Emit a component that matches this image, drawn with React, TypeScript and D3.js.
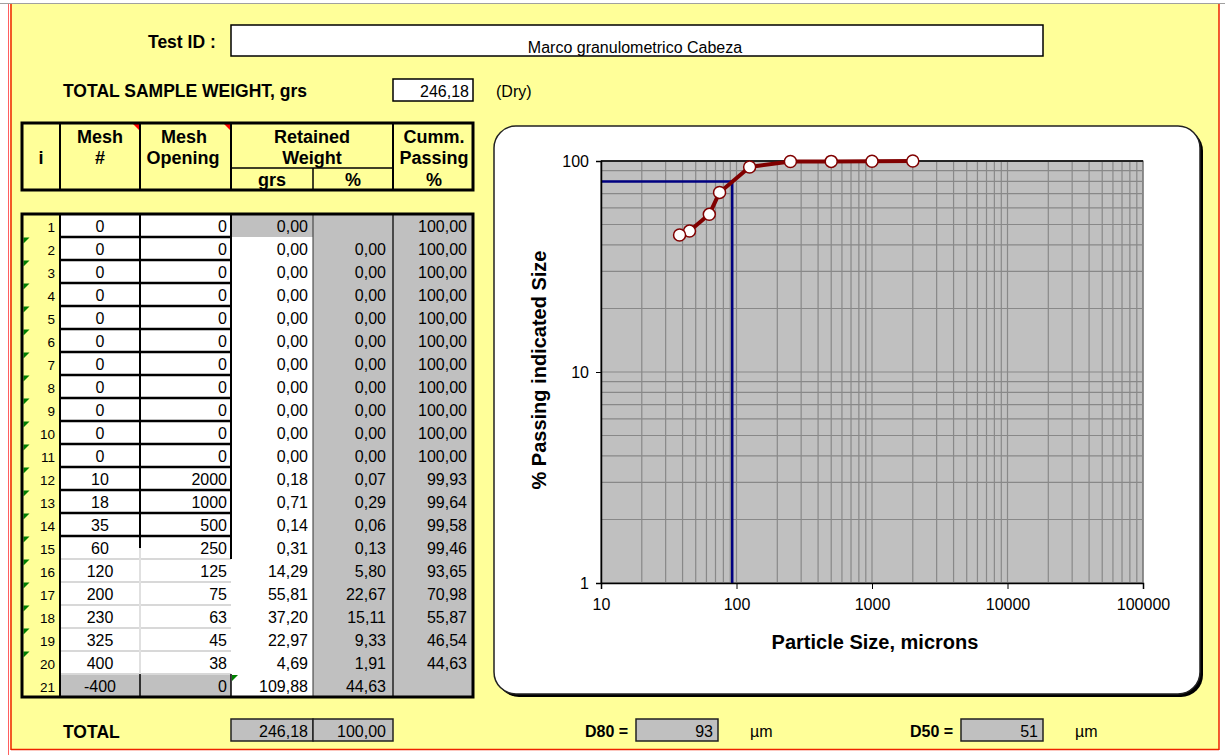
import React, {useRef, useEffect} from 'react'
import * as d3 from 'd3'

// sieve table, one entry per row (i = 1..21)
const meshNumbers = ['0', '0', '0', '0', '0', '0', '0', '0', '0', '0', '0', '10', '18', '35', '60', '120', '200', '230', '325', '400', '-400']
const meshOpenings = [0, 0, 0, 0, 0, 0, 0, 0, 0, 0, 0, 2000, 1000, 500, 250, 125, 75, 63, 45, 38, 0]
const retainedGrs = [0, 0, 0, 0, 0, 0, 0, 0, 0, 0, 0, 0.18, 0.71, 0.14, 0.31, 14.29, 55.81, 37.2, 22.97, 4.69, 109.88]
const retainedPct: (number | null)[] = [null, 0, 0, 0, 0, 0, 0, 0, 0, 0, 0, 0.07, 0.29, 0.06, 0.13, 5.8, 22.67, 15.11, 9.33, 1.91, 44.63]
const cummPassing: (number | null)[] = [100, 100, 100, 100, 100, 100, 100, 100, 100, 100, 100, 99.93, 99.64, 99.58, 99.46, 93.65, 70.98, 55.87, 46.54, 44.63, null]

const testId = 'Marco granulometrico Cabeza'
const totalWeight = 246.18
const totalPct = 100
const d80 = 93
const d50 = 51

const xDomain = [10, 100000]
const yDomain = [1, 100]
const xTickValues = [10, 100, 1000, 10000, 100000]
const yTickValues = [1, 10, 100]

const FONT = '"Liberation Sans", Arial, sans-serif'
const YELLOW = '#ffff99'
const GREY = '#c0c0c0'
const VAL = 16 // value font size
const LBL = 17.5 // bold label size
const fmt = (v: number) => v.toFixed(2).replace('.', ',')

// table geometry
const rowTop = 214
const rowH = 23

function App() {
  const xAxisRef: any = useRef(null)
  const yAxisRef: any = useRef(null)

  const xScale = d3.scaleLog().domain(xDomain).range([601, 1143])
  const yScale = d3.scaleLog().domain(yDomain).range([583, 161])

  const points = meshOpenings
    .map((o, i) => ({size: o, pass: cummPassing[i]}))
    .filter(d => d.size > 0 && d.pass != null) as {size: number; pass: number}[]

  const line = d3
    .line<{size: number; pass: number}>()
    .x(d => xScale(d.size))
    .y(d => yScale(d.pass))

  useEffect(() => {
    const xa: any = d3.axisBottom(xScale).tickValues(xTickValues).tickSize(6).tickPadding(10).tickFormat(d3.format('d'))
    const ya: any = d3.axisLeft(yScale).tickValues(yTickValues).tickSize(5).tickPadding(7).tickFormat(d3.format('d'))
    const gx = d3.select(xAxisRef.current).call(xa)
    const gy = d3.select(yAxisRef.current).call(ya)
    for (const g of [gx, gy]) {
      g.selectAll('text').style('font-family', FONT).style('font-size', '16px').attr('fill', '#000')
      g.selectAll('line').attr('stroke', '#000')
      g.select('.domain').attr('stroke', '#000').attr('stroke-width', 1.5)
    }
  }, [])

  const nRows = meshNumbers.length
  const tableBottom = rowTop + nRows * rowH

  const cellText = (x: number, y: number, t: string, anchor = 'end', size = VAL) => (
    <text x={x} y={y} textAnchor={anchor} fontSize={size}>
      {t}
    </text>
  )
  const label = (x: number, y: number, t: string) => (
    <text x={x} y={y} fontWeight="bold" fontSize={LBL}>
      {t}
    </text>
  )

  return (
    <svg width={1225} height={755} style={{position: 'absolute', left: 0, top: 0}} fontFamily={FONT}>
      <rect x={0} y={0} width={1225} height={755} fill="#fff" />
      <rect x={10} y={4} width={1209} height={746} fill={YELLOW} />
      <line x1={0} y1={3.5} x2={1225} y2={3.5} stroke="#a0a0a0" />
      <line x1={8.5} y1={4} x2={8.5} y2={755} stroke="#ff6060" />
      <line x1={11} y1={4} x2={11} y2={750} stroke="#ee2200" strokeWidth={1.5} />
      <line x1={11} y1={749.5} x2={1219} y2={749.5} stroke="#ee2200" strokeWidth={1.5} />
      <line x1={1219} y1={4} x2={1219} y2={750} stroke="#ee2200" strokeWidth={1.5} />

      {/* top fields */}
      {label(148, 47.5, 'Test ID :')}
      <rect x={231} y={25} width={812} height={31} fill="#fff" stroke="#000" strokeWidth={1.5} />
      {cellText(635, 53, testId, 'middle')}
      {label(63, 97, 'TOTAL SAMPLE WEIGHT, grs')}
      <rect x={393} y={79} width={80} height={22} fill="#fff" stroke="#000" strokeWidth={1.5} />
      {cellText(469, 96.5, fmt(totalWeight))}
      {cellText(496, 97, '(Dry)', 'start')}

      {/* header */}
      <g>
        <rect x={22} y={123} width={451} height={67} fill={YELLOW} />
        {[60, 140, 231, 393].map(x => (
          <line key={x} x1={x} y1={123} x2={x} y2={190} stroke="#000" strokeWidth={2} />
        ))}
        <line x1={231} y1={168} x2={393} y2={168} stroke="#000" strokeWidth={1.5} />
        <line x1={313} y1={168} x2={313} y2={190} stroke="#000" strokeWidth={1.5} />
        <path d="M133,124 L139,124 L139,130 Z" fill="#ff0000" />
        <path d="M224,124 L230,124 L230,130 Z" fill="#ff0000" />
        <rect x={22} y={123} width={451} height={67} fill="none" stroke="#000" strokeWidth={3} />
        <g fontWeight="bold" fontSize={18} textAnchor="middle">
          <text x={41} y={164}>i</text>
          <text x={100} y={142.5}>Mesh</text>
          <text x={100} y={164}>#</text>
          <text x={184} y={142.5}>Mesh</text>
          <text x={183} y={164}>Opening</text>
          <text x={312} y={142.5}>Retained</text>
          <text x={312} y={164}>Weight</text>
          <text x={272} y={186}>grs</text>
          <text x={353} y={186}>%</text>
          <text x={434} y={142.5}>Cumm.</text>
          <text x={434} y={164}>Passing</text>
          <text x={434} y={186}>%</text>
        </g>
      </g>

      {/* body */}
      <g>
        {meshNumbers.map((m, i) => {
          const y = rowTop + i * rowH
          const last = i === nRows - 1
          return (
            <g key={i}>
              <rect x={60} y={y} width={171} height={rowH} fill={last ? GREY : '#fff'} />
              <rect x={231} y={y} width={82} height={rowH} fill={i === 0 ? GREY : '#fff'} />
              <rect x={313} y={y} width={160} height={rowH} fill={GREY} />
            </g>
          )
        })}
        {/* light cell lines lower part */}
        {meshNumbers.map((m, i) =>
          i >= 14 && i < nRows - 1 ? (
            <line key={i} x1={60} y1={rowTop + (i + 1) * rowH} x2={231} y2={rowTop + (i + 1) * rowH} stroke="#d8d8d8" strokeWidth={2} />
          ) : null
        )}
        <line x1={140} y1={rowTop + 14 * rowH} x2={140} y2={rowTop + 20 * rowH} stroke="#e0e0e0" strokeWidth={2} />
        {/* boxed input cells */}
        {meshNumbers.map((m, i) =>
          i < 14 ? (
            <line key={i} x1={60} y1={rowTop + (i + 1) * rowH} x2={231} y2={rowTop + (i + 1) * rowH} stroke="#000" strokeWidth={2.5} />
          ) : null
        )}
        <line x1={140} y1={rowTop} x2={140} y2={rowTop + 14 * rowH + 12} stroke="#000" strokeWidth={2} />
        <line x1={140} y1={rowTop + 20 * rowH} x2={140} y2={tableBottom} stroke="#000" strokeWidth={1.5} />
        <line x1={60} y1={rowTop} x2={60} y2={tableBottom} stroke="#000" strokeWidth={2} />
        <line x1={231} y1={rowTop} x2={231} y2={rowTop + 15 * rowH} stroke="#000" strokeWidth={2} />
        <line x1={231} y1={rowTop + 20 * rowH} x2={231} y2={tableBottom} stroke="#000" strokeWidth={1.5} />
        <line x1={313} y1={rowTop} x2={313} y2={tableBottom} stroke="#333" strokeWidth={1} />
        <line x1={393} y1={rowTop} x2={393} y2={tableBottom} stroke="#222" strokeWidth={1.5} />

        {/* green comment markers */}
        {meshNumbers.map((m, i) =>
          i >= 1 && i < nRows - 1 ? (
            <path key={i} d={`M23.5,${rowTop + i * rowH + 0.5} l6,0 l-6,6 Z`} fill="#008000" />
          ) : null
        )}
        <path d={`M232,${rowTop + 20 * rowH + 1} l6,0 l-6,6 Z`} fill="#008000" />

        {meshNumbers.map((m, i) => {
          const yb = rowTop + i * rowH + 18
          return (
            <g key={i}>
              {cellText(55, yb, String(i + 1), 'end', 13.5)}
              {cellText(100, yb, m, 'middle')}
              {cellText(227, yb, String(meshOpenings[i]))}
              {cellText(308, yb, fmt(retainedGrs[i]))}
              {retainedPct[i] != null && cellText(386, yb, fmt(retainedPct[i] as number))}
              {cummPassing[i] != null && cellText(467, yb, fmt(cummPassing[i] as number))}
            </g>
          )
        })}
        <rect x={22} y={rowTop} width={451} height={tableBottom - rowTop} fill="none" stroke="#000" strokeWidth={3} />
      </g>

      {/* totals */}
      {label(63, 737.5, 'TOTAL')}
      <rect x={231} y={719} width={82} height={22} fill={GREY} stroke="#222" strokeWidth={1.5} />
      <rect x={313} y={719} width={80} height={22} fill={GREY} stroke="#222" strokeWidth={1.5} />
      {cellText(308, 736.5, fmt(totalWeight))}
      {cellText(386, 736.5, fmt(totalPct))}

      <text x={585} y={737} fontWeight="bold" fontSize={16}>D80 =</text>
      <rect x={636} y={719} width={82} height={22} fill={GREY} stroke="#222" strokeWidth={1.5} />
      {cellText(713, 736.5, String(d80))}
      {cellText(750, 737, 'µm', 'start')}
      <text x={910} y={737} fontWeight="bold" fontSize={16}>D50 =</text>
      <rect x={961} y={719} width={82} height={22} fill={GREY} stroke="#222" strokeWidth={1.5} />
      {cellText(1038, 736.5, String(d50))}
      {cellText(1075, 737, 'µm', 'start')}

      {/* chart frame */}
      <rect x={497} y={129} width={706} height={568} rx={22} fill="#000" />
      <rect x={494} y={126} width={706} height={568} rx={22} fill="#fff" stroke="#222" strokeWidth={1.5} />

      {/* plot area */}
      <rect x={xScale(xDomain[0])} y={yScale(yDomain[1])} width={xScale(xDomain[1]) - xScale(xDomain[0])} height={yScale(yDomain[0]) - yScale(yDomain[1])} fill={GREY} stroke="#444" />
      {xScale.ticks().map(t => (
        <line key={'x' + t} x1={xScale(t)} x2={xScale(t)} y1={yScale(yDomain[0])} y2={yScale(yDomain[1])} stroke="#888" strokeWidth={1.2} />
      ))}
      {yScale.ticks().map(t => (
        <line key={'y' + t} y1={yScale(t)} y2={yScale(t)} x1={xScale(xDomain[0])} x2={xScale(xDomain[1])} stroke="#888" strokeWidth={1.2} />
      ))}
      <line x1={xScale(xDomain[0])} x2={xScale(xDomain[1])} y1={161} y2={161} stroke="#000" strokeWidth={1.5} />

      {/* D80 guide */}
      <path
        d={`M${xScale(xDomain[0])},${yScale(80)} L${xScale(d80)},${yScale(80)} L${xScale(d80)},${yScale(yDomain[0])}`}
        fill="none"
        stroke="#000080"
        strokeWidth={2.5}
      />

      <path d={line(points) || ''} fill="none" stroke="#800000" strokeWidth={4} strokeLinejoin="round" />
      {points.map((d, i) => (
        <circle key={i} cx={xScale(d.size)} cy={yScale(d.pass)} r={6} fill="#fff" stroke="#800000" strokeWidth={1.5} />
      ))}

      <g ref={xAxisRef} transform={`translate(0,${yScale(yDomain[0])})`} />
      <g ref={yAxisRef} transform={`translate(${xScale(xDomain[0])},0)`} />

      <text x={875} y={649} textAnchor="middle" fontWeight="bold" fontSize={20}>
        Particle Size, microns
      </text>
      <text transform="translate(546,370) rotate(-90)" textAnchor="middle" fontWeight="bold" fontSize={20}>
        % Passing indicated Size
      </text>
    </svg>
  )
}

export default App
